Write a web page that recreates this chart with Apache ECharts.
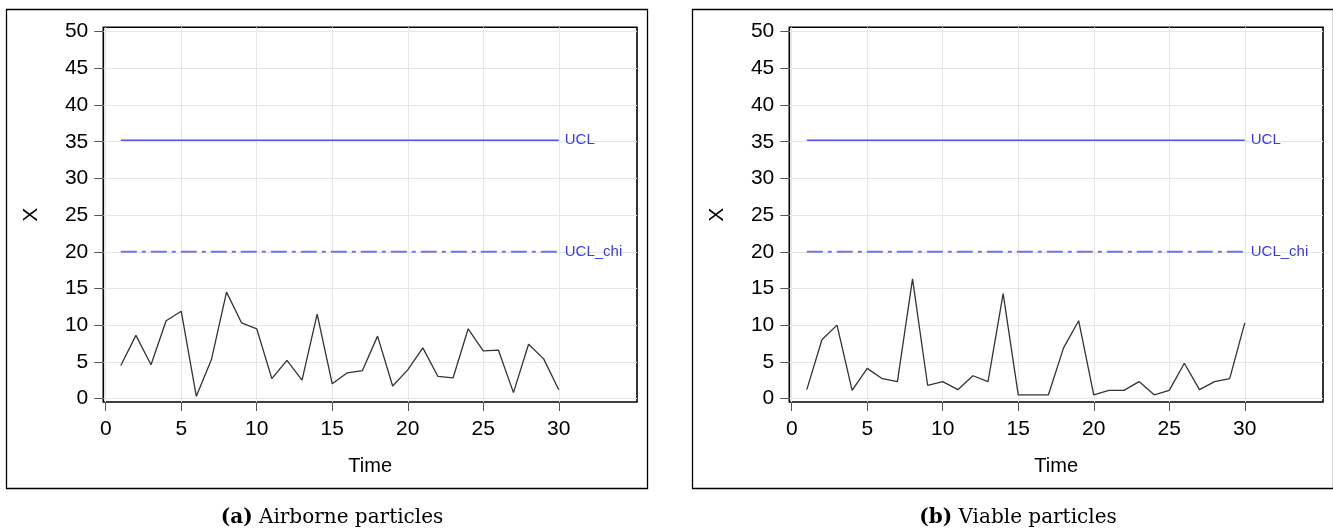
<!DOCTYPE html>
<html>
<head>
<meta charset="utf-8">
<script src="https://cdn.jsdelivr.net/npm/echarts@6/dist/echarts.min.js"></script>
<style>
  html, body { margin: 0; padding: 0; background: #ffffff; }
  #chart { width: 1333px; height: 531px; }
</style>
</head>
<body>
<div id="chart"></div>
<script>
// Time index shared by both panels
const timePoints = [1, 2, 3, 4, 5, 6, 7, 8, 9, 10, 11, 12, 13, 14, 15,
                    16, 17, 18, 19, 20, 21, 22, 23, 24, 25, 26, 27, 28, 29, 30];

// Monitoring statistic X per time point
const airborneX = [4.5, 8.6, 4.6, 10.6, 11.9, 0.3, 5.3, 14.5, 10.3, 9.5,
                   2.7, 5.2, 2.5, 11.5, 2.0, 3.5, 3.8, 8.5, 1.7, 3.9,
                   6.9, 3.0, 2.8, 9.5, 6.5, 6.6, 0.8, 7.4, 5.4, 1.2];
const viableX = [1.2, 8.0, 10.0, 1.1, 4.1, 2.7, 2.3, 16.3, 1.8, 2.3,
                 1.2, 3.1, 2.3, 14.3, 0.5, 0.5, 0.5, 6.9, 10.6, 0.5,
                 1.1, 1.1, 2.3, 0.5, 1.1, 4.8, 1.2, 2.3, 2.7, 10.3];

// Control limits for each panel (airborne, viable)
const uclValues = [35.2, 35.2];
const uclChiValues = [20.0, 20.0];

// Axis tick labels
const xTicks = [0, 5, 10, 15, 20, 25, 30];
const yTicks = [0, 5, 10, 15, 20, 25, 30, 35, 40, 45, 50];

// Panel captions
const captionTags = ['(a)', '(b)'];
const captionTexts = ['Airborne particles', 'Viable particles'];

const panels = [airborneX, viableX];
const panelShift = 686;          // horizontal distance between the two panels
const labelFont = 'Liberation Sans, Arial, sans-serif';
const captionFont = 'DejaVu Serif, Liberation Serif, serif';

const grids = [], xAxes = [], yAxes = [], series = [], titles = [], graphics = [];

panels.forEach((values, i) => {
  const dx = i * panelShift;

  grids.push({
    left: 103.3 + dx, top: 27.3, width: 533.7, height: 374.7,
    show: true, borderColor: '#000000', borderWidth: 1.6,
    backgroundColor: '#ffffff', containLabel: false
  });

  xAxes.push({
    type: 'value', gridIndex: i, min: -0.16, max: 35.18,
    name: 'Time', nameLocation: 'middle', nameGap: 54,
    nameTextStyle: { fontFamily: labelFont, fontSize: 20, color: '#000' },
    axisLine: { show: false, onZero: false },
    axisTick: { show: true, length: 9, inside: false, customValues: xTicks,
                lineStyle: { color: '#555', width: 1 } },
    axisLabel: { customValues: xTicks, margin: 17, fontFamily: labelFont,
                 fontSize: 21, color: '#000' },
    splitLine: { show: true, lineStyle: { color: '#e6e6e6', width: 1 } }
  });

  yAxes.push({
    type: 'value', gridIndex: i, min: -0.48, max: 50.6,
    name: 'X', nameLocation: 'middle', nameGap: 62, nameRotate: 90,
    nameTextStyle: { fontFamily: labelFont, fontSize: 21, color: '#000' },
    axisLine: { show: false, onZero: false },
    axisTick: { show: true, length: 9, inside: false, customValues: yTicks,
                lineStyle: { color: '#555', width: 1 } },
    axisLabel: { customValues: yTicks, margin: 15, fontFamily: labelFont,
                 fontSize: 21, color: '#000' },
    splitLine: { show: true, lineStyle: { color: '#e6e6e6', width: 1 } }
  });

  const first = timePoints[0];
  const last = timePoints[timePoints.length - 1];

  // upper control limit
  series.push({
    type: 'line', xAxisIndex: i, yAxisIndex: i, symbol: 'none', silent: true,
    data: [[first, uclValues[i]], [last, uclValues[i]]],
    lineStyle: { color: '#5252e6', width: 1.4 },
    endLabel: { show: true, formatter: 'UCL', distance: 6, color: '#3c3cd8',
                fontFamily: labelFont, fontSize: 15 }
  });

  // chi-square based limit
  series.push({
    type: 'line', xAxisIndex: i, yAxisIndex: i, symbol: 'none', silent: true,
    data: [[first, uclChiValues[i]], [last, uclChiValues[i]]],
    lineStyle: { color: '#7474e0', width: 2, type: [16, 5, 4, 5] },
    endLabel: { show: true, formatter: 'UCL_chi', distance: 6, color: '#3c3cd8',
                fontFamily: labelFont, fontSize: 15 }
  });

  // observed statistic
  series.push({
    type: 'line', xAxisIndex: i, yAxisIndex: i, symbol: 'none', silent: true,
    data: timePoints.map((t, k) => [t, values[k]]),
    lineStyle: { color: '#333333', width: 1.3 }
  });

  // outer frame of the panel
  graphics.push({
    type: 'rect', silent: true,
    shape: { x: 6.5 + dx, y: 9.5, width: 641, height: 479 },
    style: { fill: null, stroke: '#000', lineWidth: 1.3 }
  });

  titles.push({
    text: '{b|' + captionTags[i] + '} ' + captionTexts[i],
    left: 327 + dx, top: 503, textAlign: 'center',
    textStyle: {
      fontFamily: captionFont, fontSize: 20,
      fontWeight: 'normal', color: '#000',
      rich: { b: { fontFamily: captionFont, fontSize: 20,
                   fontWeight: 'bold', color: '#000' } }
    }
  });
});

const chart = echarts.init(document.getElementById('chart'), null, { renderer: 'canvas' });
chart.setOption({
  animation: false,
  backgroundColor: '#ffffff',
  title: titles,
  grid: grids,
  xAxis: xAxes,
  yAxis: yAxes,
  series: series,
  graphic: graphics
});
</script>
</body>
</html>
